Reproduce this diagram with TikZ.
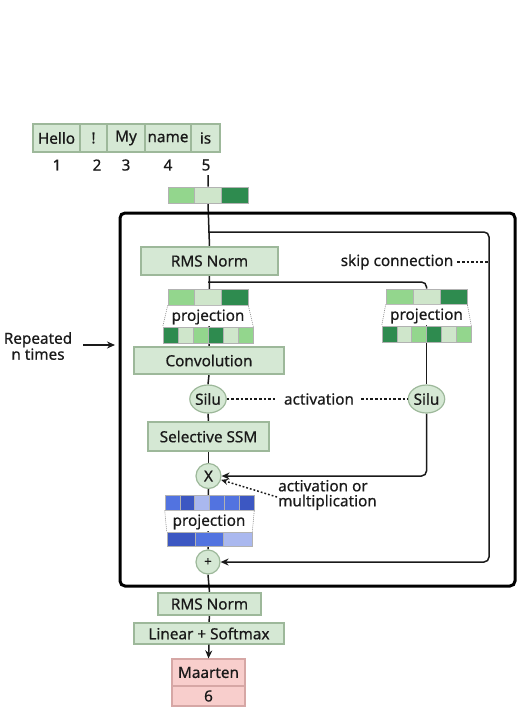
\documentclass[tikz,border=0pt]{standalone}
\usepackage{fontspec}
\setmainfont{Noto Sans}[FakeBold=0.6]
\usetikzlibrary{shapes.geometric,arrows.meta,backgrounds}
\definecolor{gfill}{HTML}{D5E8D4}
\definecolor{gline}{HTML}{9DB89A}
\definecolor{pfill}{HTML}{F8CECC}
\definecolor{pline}{HTML}{D6A7A5}
\definecolor{eL}{HTML}{93D68D}
\definecolor{eP}{HTML}{CFE6CB}
\definecolor{eD}{HTML}{2E8B4F}
\definecolor{bM}{HTML}{5273E0}
\definecolor{bD}{HTML}{3C57C2}
\definecolor{bL}{HTML}{AAB8EF}
\definecolor{ink}{HTML}{1A1A1A}
\newcommand\mycellrow[7]{%
  \foreach \c [count=\i] in {#7}
    \node[cell, fill=\c, minimum width={#3/#6*1pt}, minimum height=#5pt] (#1\i) at ({#2+#3/#6*(\i-0.5)},#4) {};%
}
\begin{document}
\begin{tikzpicture}[x=1pt,y=-1pt,
  font=\fontsize{15.3}{17}\selectfont, text=ink,
  gbox/.style={draw=gline, fill=gfill, line width=1.2pt, inner sep=0pt},
  pbox/.style={draw=pline, fill=pfill, line width=1.2pt, inner sep=0pt},
  gcirc/.style={ellipse, draw=gline, fill=gfill, line width=1.2pt, inner sep=0pt},
  cell/.style={draw=black!30, line width=0.6pt, inner sep=0pt},
  conn/.style={draw=ink, line width=1.5pt},
  arr/.style={-{Stealth[length=8pt,width=7pt]}},
  dots/.style={draw=ink, line width=1.2pt, dash pattern=on 2.6pt off 2pt},
  trap/.style={draw=black!45, line width=0.6pt, dash pattern=on 1pt off 1pt},
  lbl/.style={inner sep=0pt}
]
\useasboundingbox (0,0) rectangle (524,713);

% tokens
\node[gbox, minimum width=47pt, minimum height=28pt] (hello) at (56.5,138) {Hello};
\node[gbox, minimum width=27pt, minimum height=28pt] (excl) at (93.5,138) {!};
\node[gbox, minimum width=38pt, minimum height=28pt] (my) at (126,138) {My};
\node[gbox, minimum width=46pt, minimum height=28pt] (name) at (168,138) {name};
\node[gbox, minimum width=29pt, minimum height=28pt] (is) at (205.5,138) {is};
\node[lbl] (n1) at (57,165) {1};
\node[lbl] (n2) at (97,165) {2};
\node[lbl] (n3) at (126,165) {3};
\node[lbl] (n4) at (168,165) {4};
\node[lbl] (n5) at (206,165) {5};
\coordinate (t5) at (208,175);

% embedding
\mycellrow{emb}{168}{80}{195}{16}{3}{eL,eP,eD}

% big block
\node[draw=black, line width=3pt, rounded corners=5pt, minimum width=395pt, minimum height=373pt, inner sep=0pt] (block) at (317.5,399.5) {};
\node[lbl, align=center] (rep) at (38,346) {Repeated\\[-1pt]n times};
\coordinate (repA) at (83,345);
\coordinate (repB) at (115,345);

\node[gbox, minimum width=137pt, minimum height=28pt] (rms1) at (209.5,261) {RMS Norm};
\node[lbl] (skiplbl) at (397,262) {skip connection};
\coordinate (skipA) at (208,232);
\coordinate (skipTR) at (489,232);
\coordinate (skipBR) at (489,562);
\coordinate (brA) at (208,282);

% left projection
\mycellrow{lp}{168}{80}{297}{16}{3}{eL,eP,eD}
\mycellrow{lq}{163}{90}{335}{16}{6}{eD,eP,eL,eD,eP,eL}
\fill[white] ([xshift=0.8pt,yshift=-0.6pt]lp1.south west) -- ([xshift=0.8pt,yshift=0.6pt]lq1.north west) -- ([xshift=-0.8pt,yshift=0.6pt]lq6.north east) -- ([xshift=-0.8pt,yshift=-0.6pt]lp3.south east) -- cycle;
\draw[trap] (lp1.south west) -- (lq1.north west) (lq6.north east) -- (lp3.south east);
\node[lbl] (lptext) at (208,317) {projection};

% right projection
\mycellrow{rp}{386}{81}{296.5}{15}{3}{eL,eP,eD}
\mycellrow{rq}{382}{89}{334}{16}{6}{eD,eP,eL,eD,eP,eL}
\fill[white] ([xshift=0.8pt,yshift=-0.6pt]rp1.south west) -- ([xshift=0.8pt,yshift=0.6pt]rq1.north west) -- ([xshift=-0.8pt,yshift=0.6pt]rq6.north east) -- ([xshift=-0.8pt,yshift=-0.6pt]rp3.south east) -- cycle;
\draw[trap] (rp1.south west) -- (rq1.north west) (rq6.north east) -- (rp3.south east);
\node[lbl] (rptext) at (426.5,316) {projection};

\node[gbox, minimum width=150pt, minimum height=27pt] (conv) at (209,360.5) {Convolution};
\node[gcirc, minimum width=33pt, minimum height=28pt] (siluL) at (208,399) {Silu};
\node[gcirc, minimum width=33pt, minimum height=28pt] (siluR) at (426.5,399) {Silu};
\node[lbl] (actl) at (319,399) {activation};
\node[gbox, minimum width=121pt, minimum height=29pt] (ssm) at (208.5,436.5) {Selective SSM};
\node[gcirc, minimum width=25pt, minimum height=25pt] (X) at (208.5,476) {X};
\node[lbl, align=left, anchor=west] (amlbl) at (278,495) {activation or\\[-2pt]multiplication};
\coordinate (amA) at (277,497);

% blue projection
\mycellrow{bp}{165}{89}{502.5}{15}{6}{bM,bD,bL,bM,bM,bD}
\mycellrow{bq}{167}{85}{539}{14}{3}{bD,bM,bL}
\fill[white] ([xshift=0.8pt,yshift=-0.6pt]bp1.south west) -- ([xshift=0.8pt,yshift=0.6pt]bq1.north west) -- ([xshift=-0.8pt,yshift=0.6pt]bq3.north east) -- ([xshift=-0.8pt,yshift=-0.6pt]bp6.south east) -- cycle;
\draw[trap] (bp1.south west) -- (bq1.north west) (bq3.north east) -- (bp6.south east);
\node[lbl] (bptext) at (209,522) {projection};

\node[gcirc, minimum width=24pt, minimum height=24pt, font=\fontsize{13}{14}\selectfont] (plus) at (208,562) {+};

\node[gbox, minimum width=103pt, minimum height=22pt] (rms2) at (209.5,604) {RMS Norm};
\node[gbox, minimum width=150pt, minimum height=21pt] (lin) at (209,633.5) {Linear + Softmax};
\node[pbox, minimum width=73pt, minimum height=27pt] (maarten) at (208.5,672.5) {Maarten};
\node[pbox, minimum width=73pt, minimum height=20pt] (six) at (208.5,696) {6};

\begin{scope}[on background layer]
\draw[conn] (t5) -- (emb2.north);
\draw[conn] (emb2.south) -- (rms1.north);
\draw[conn, arr, rounded corners=5pt] (skipA) -- (skipTR) -- (skipBR) -- (plus.east);
\draw[conn] (rms1.south) -- (conv.north);
\draw[conn, rounded corners=5pt] (brA) -| (rp2.north);
\draw[conn] (conv.south) -- (siluL.north);
\draw[conn] (siluL.south) -- (ssm.north);
\draw[conn] (ssm.south) -- (X.north);
\draw[conn] (X.south) -- (plus.north);
\draw[conn] (rp2.south) -- (siluR.north);
\draw[conn, arr, rounded corners=5pt] (siluR.south) |- (X.east);
\draw[conn] (plus.south) -- (rms2.north);
\draw[conn] (rms2.south) -- (lin.north);
\end{scope}
\draw[conn, arr] (lin.south) -- (maarten.north);
\draw[dots, shorten >=7pt] (siluL.east) -- (actl.west);
\draw[dots, shorten <=7pt] (actl.east) -- (siluR.west);
\draw[dots, shorten <=4pt] (skiplbl.east) -- (skiplbl.east -| skipTR);
\draw[draw=ink, line width=1.5pt, dash pattern=on 1.8pt off 2pt, -{Stealth[length=7pt,width=6pt]}] (amA) -- (X);
\draw[conn, arr] (repA) -- (repB);
\end{tikzpicture}
\end{document}
